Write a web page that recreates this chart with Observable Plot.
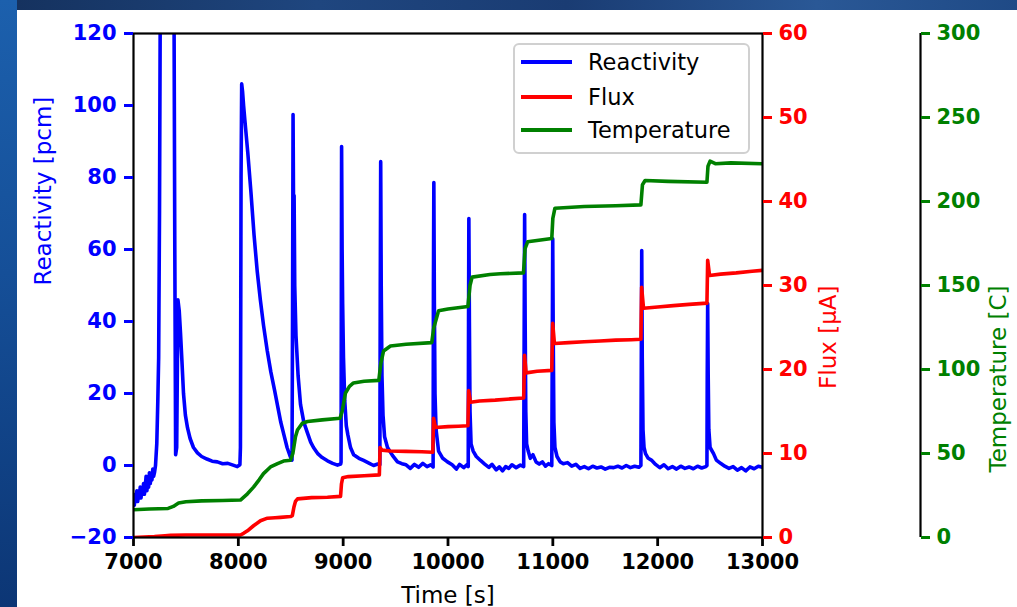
<!DOCTYPE html>
<html>
<head>
<meta charset="utf-8">
<script src="https://cdn.jsdelivr.net/npm/d3@7"></script>
<script src="https://cdn.jsdelivr.net/npm/@observablehq/plot@0.6"></script>
<style>
  html, body { margin: 0; padding: 0; background: #fff; }
  body { width: 1017px; height: 607px; overflow: hidden; position: relative; font-family: "DejaVu Sans", sans-serif; }
  #chart { position: absolute; left: 0; top: 0; }
  #bgLeft { position: absolute; left: 0; top: 0; width: 17px; height: 607px; z-index: 5;
    background: linear-gradient(180deg, #1c60ad 0%, #154f98 45%, #0c3675 100%); }
  #bgTop { position: absolute; left: 17px; top: 0; width: 1000px; height: 10px; z-index: 5;
    background: linear-gradient(90deg, #15325f 0%, #1f467f 30%, #1a3c73 55%, #2a5896 80%, #1f4a86 100%); }
  #legend { position: absolute; left: 513px; top: 43px; width: 237px; height: 111px; box-sizing: border-box;
    border: 2px solid #d0d0d0; border-radius: 6px; background: rgba(255,255,255,0.85); z-index: 4; }
  .row { position: absolute; left: 0; height: 30px; width: 100%; }
  .swatch { position: absolute; left: 6px; top: 13px; width: 51px; height: 4px; }
  .lab { position: absolute; left: 73px; top: 0; line-height: 30px; font-size: 22.5px; color: #000; white-space: nowrap; }
</style>
</head>
<body>
<div id="chart"></div>
<div id="bgLeft"></div>
<div id="bgTop"></div>
<div id="legend"></div>
<script>
// ---- tick values ----
const timeTicks = [7000, 8000, 9000, 10000, 11000, 12000, 13000];
const reactivityTicks = [-20, 0, 20, 40, 60, 80, 100, 120];
const fluxTicks = [0, 10, 20, 30, 40, 50, 60];
const temperatureTicks = [0, 50, 100, 150, 200, 250, 300];

// ---- series labels / colors ----
const seriesNames = ["Reactivity", "Flux", "Temperature"];
const seriesColors = ["#0000ff", "#ff0000", "#008000"];

// ---- Reactivity [pcm] vs time [s] ----
const reactivity = [
[7000,-9],[7008,-11],[7016,-8],[7024,-10],[7032,-7],[7040,-10],[7048,-8],[7056,-9],[7064,-6],[7072,-9],
[7080,-7],[7088,-8],[7096,-5],[7104,-8],[7112,-6],[7120,-3],[7128,-7],[7136,-4],[7144,-6],[7152,-2],
[7160,-5],[7168,-3],[7176,-4],[7184,-1],[7192,-3],[7200,-2],[7210,0],[7222,6],[7232,18],[7240,30],
[7248,70],[7258,150],[7384,150],[7394,60],[7402,3],[7412,5],[7424,46],[7436,43],[7448,37],[7462,29],
[7477,20],[7495,14],[7515,10.5],[7540,7.5],[7572,5],[7610,3.5],[7650,2.5],[7700,1.8],[7750,1.2],[7800,1],
[7850,0.5],[7900,0.6],[7950,0.1],[7990,-0.3],[8015,0.2],
[8020,5],[8026,80],[8032,106],[8040,104],[8050,100],[8062,96],[8090,87],[8120,76],[8150,64],[8180,54],
[8210,46],[8240,39],[8275,32],[8310,26],[8345,21],[8375,16.5],[8405,12],[8435,8.5],[8465,5],[8495,2.5],[8512,1.5],
[8517,40],[8522,97.5],[8527,70],[8532,75],[8538,50],[8550,36],[8570,25],[8593,17],[8625,12],[8660,9],
[8690,6.5],[8717,5],[8760,3.2],[8800,2.2],[8850,1.3],[8900,0.6],[8946,0.1],[8976,0.4],
[8980,1],[8985,88.6],[8990,60],[8995,45],[9003,30],[9015,18],[9030,11],[9045,8.5],[9070,5],[9100,3],
[9150,2],[9195,1.4],[9250,0.6],[9290,0],[9330,0.4],[9350,0.2],
[9354,50],[9358,84.4],[9363,50],[9370,25],[9380,14],[9395,8],[9423,5],[9470,2.8],[9518,1],[9560,0.5],
[9600,0.2],[9640,-0.8],[9680,0.3],[9720,-0.5],[9760,0.6],[9800,-0.3],[9835,0.2],[9858,-0.4],
[9861,50],[9865,78.6],[9870,45],[9876,20],[9886,10],[9910,4],[9950,2],[9995,1],[10040,0.2],[10080,-1],
[10110,0.3],[10150,-0.6],[10180,0.2],[10193,-0.3],
[10196,40],[10199,68.6],[10204,40],[10210,15],[10220,6],[10240,4],[10270,2.5],[10310,1.4],[10350,0.4],
[10390,-0.5],[10420,0.3],[10460,-1.2],[10490,-0.4],[10520,-1.5],[10550,-0.3],[10580,-0.8],[10610,0.2],
[10650,-0.6],[10690,0.1],[10722,-0.3],
[10727,40],[10731,69.7],[10736,40],[10742,15],[10750,6],[10765,4],[10785,2],[10810,3],[10840,1],[10870,0.4],
[10900,1],[10930,-0.2],[10960,0.5],[10990,0],
[10995,35],[10999,63],[11004,35],[11010,12],[11020,5],[11040,2.5],[11070,1],[11100,0.5],[11140,0.8],
[11180,-0.2],[11220,0.3],[11260,-0.8],[11300,-0.3],[11340,-0.9],[11380,-0.2],[11420,-0.7],[11460,-0.4],
[11500,-1],[11540,-0.5],[11580,-0.6],[11620,-0.2],[11660,-0.7],[11700,0],[11740,-0.6],[11780,-0.2],
[11820,-0.5],[11840,0],
[11844,30],[11848,59.7],[11853,30],[11860,10],[11870,5],[11884,3.3],[11910,2],[11940,1.5],[11980,0.3],
[12020,-0.6],[12060,0.2],[12100,-0.9],[12140,-0.3],[12180,-1],[12220,-0.2],[12260,-0.8],[12300,-0.4],
[12340,-0.9],[12380,-0.2],[12420,-0.7],[12460,-0.3],[12470,0],
[12473,25],[12477,45],[12482,25],[12488,10],[12500,5],[12533,3.3],[12560,1.5],[12600,0.6],[12640,-0.2],
[12680,-0.8],[12720,-0.3],[12760,-1.3],[12800,-0.6],[12840,-1.5],[12880,-0.4],[12920,-0.9],[12960,-0.2],[13000,-0.5]
];

// ---- Flux [uA] vs time [s] ----
const flux = [
[7000,0],[7100,0.05],[7200,0.1],[7300,0.2],[7353,0.25],[7500,0.3],[7700,0.3],[7900,0.3],[8020,0.3],
[8050,0.5],[8087,0.8],[8145,1.4],[8211,2],[8278,2.3],[8350,2.35],[8402,2.4],[8498,2.5],[8515,2.6],
[8530,3.6],[8545,4.3],[8565,4.6],[8700,4.75],[8850,4.8],[8975,4.9],[8984,6.4],[8995,7.1],[9050,7.25],
[9200,7.35],[9345,7.45],[9352,10.7],[9370,10.4],[9450,10.3],[9600,10.25],[9750,10.2],[9855,10.15],
[9862,14.2],[9880,13.1],[10000,13.2],[10100,13.25],[10190,13.3],[10197,17.5],[10215,16.1],[10300,16.25],
[10450,16.35],[10600,16.5],[10722,16.6],[10730,21.7],[10745,19.6],[10850,19.8],[10990,19.9],[10999,25.5],
[11015,23.1],[11150,23.2],[11300,23.3],[11450,23.4],[11600,23.5],[11750,23.55],[11840,23.6],[11847,29.8],
[11865,27.3],[12000,27.45],[12150,27.6],[12300,27.75],[12470,27.9],[12477,33],[12495,31.2],[12600,31.35],
[12750,31.5],[12900,31.7],[13000,31.8]
];

// ---- Temperature [C] vs time [s] ----
const temperature = [
[7000,16.5],[7150,17],[7330,17.3],[7380,18.5],[7430,20.5],[7500,21.3],[7650,21.8],[7850,22],[8020,22.3],
[8087,26],[8145,30],[8200,34.5],[8240,38],[8307,42],[8374,44],[8431,45.5],[8498,46],[8520,50],[8545,60],
[8564,64],[8610,68],[8660,69],[8800,70],[8970,71],[8990,75],[9022,86],[9060,90],[9098,92],[9200,93],
[9340,93.5],[9360,104],[9385,111],[9451,114],[9600,115],[9845,116],[9865,125],[9910,135],[10000,136],
[10190,137.5],[10210,150],[10230,155],[10400,156.5],[10500,157],[10720,157.5],[10735,172],[10760,176],
[10990,178],[11000,190],[11020,196],[11300,197],[11600,197.5],[11840,198],[11855,210],[11880,212.5],
[12100,212],[12470,211.5],[12480,221],[12500,224],[12550,222.5],[12700,223],[13000,222.5]
];

// map secondary axes onto the reactivity scale domain [-20, 120]
const yDom = [-20, 120];
const fluxDom = [0, 60];
const tempDom = [0, 300];
const fromFlux = f => yDom[0] + (f - fluxDom[0]) * (yDom[1] - yDom[0]) / (fluxDom[1] - fluxDom[0]);
const toFlux = y => fluxDom[0] + (y - yDom[0]) * (fluxDom[1] - fluxDom[0]) / (yDom[1] - yDom[0]);
const fromTemp = t => yDom[0] + (t - tempDom[0]) * (yDom[1] - yDom[0]) / (tempDom[1] - tempDom[0]);
const toTemp = y => tempDom[0] + (y - yDom[0]) * (tempDom[1] - tempDom[0]) / (yDom[1] - yDom[0]);

const W = 1017, H = 607;
const mLeft = 133, mRight = 255, mTop = 33, mBottom = 70;
const tempAxisOffset = 158;
const tickFont = {fontSize: 21, fontWeight: "bold", fontFamily: "DejaVu Sans"};
const labelFont = {fontSize: 23, fontFamily: "DejaVu Sans"};
const lw = 3.6;

const chart = Plot.plot({
  width: W, height: H,
  marginLeft: mLeft, marginRight: mRight, marginTop: mTop, marginBottom: mBottom,
  style: {background: "transparent", fontFamily: "DejaVu Sans", overflow: "visible"},
  x: {domain: [7000, 13000]},
  y: {domain: yDom},
  marks: [
    Plot.line(reactivity, {x: d => d[0], y: d => d[1], stroke: seriesColors[0], strokeWidth: lw, clip: true}),
    Plot.line(flux, {x: d => d[0], y: d => fromFlux(d[1]), stroke: seriesColors[1], strokeWidth: lw, clip: true}),
    Plot.line(temperature, {x: d => d[0], y: d => fromTemp(d[1]), stroke: seriesColors[2], strokeWidth: lw, clip: true}),
    Plot.frame({stroke: "#000", strokeWidth: 2.2}),
    Plot.axisX(timeTicks, {tickSize: 9, tickPadding: 8, strokeWidth: 2.8, color: "#000",
      tickFormat: d3.format("d"), label: null, ...tickFont}),
    Plot.axisY(reactivityTicks, {anchor: "left", tickSize: 9, tickPadding: 8, strokeWidth: 3, color: seriesColors[0],
      tickFormat: d3.format("d"), label: null, ...tickFont}),
    Plot.axisY(fluxTicks.map(fromFlux), {anchor: "right", tickSize: 9, tickPadding: 7, strokeWidth: 3, color: seriesColors[1],
      tickFormat: d => String(Math.round(toFlux(d))), label: null, ...tickFont}),
    Plot.ruleX([13000], {y1: yDom[0], y2: yDom[1], dx: tempAxisOffset, stroke: "#000", strokeWidth: 2.2}),
    Plot.axisY(temperatureTicks.map(fromTemp), {anchor: "right", dx: tempAxisOffset, tickSize: 9, tickPadding: 7, strokeWidth: 3,
      color: seriesColors[2], tickFormat: d => String(Math.round(toTemp(d))), label: null, ...tickFont}),
    Plot.text(["Time [s]"], {text: d => d, frameAnchor: "bottom", dy: 58, lineAnchor: "middle", fill: "#000", ...labelFont}),
    Plot.text(["Reactivity [pcm]"], {text: d => d, frameAnchor: "left", dx: -90, rotate: -90, fill: seriesColors[0], ...labelFont}),
    Plot.text(["Flux [\u03BCA]"], {text: d => d, frameAnchor: "right", dx: 66, rotate: -90, fill: seriesColors[1], ...labelFont}),
    Plot.text(["Temperature [C]"], {text: d => d, frameAnchor: "right", dx: 236, rotate: -90, fill: seriesColors[2], ...labelFont})
  ]
});
document.getElementById("chart").appendChild(chart);

// legend (HTML overlay)
const legend = document.getElementById("legend");
const rowTops = [2, 37, 70];
seriesNames.forEach((name, i) => {
  const row = document.createElement("div");
  row.className = "row";
  row.style.top = rowTops[i] + "px";
  const sw = document.createElement("div");
  sw.className = "swatch";
  sw.style.background = seriesColors[i];
  const lab = document.createElement("div");
  lab.className = "lab";
  lab.textContent = name;
  row.appendChild(sw); row.appendChild(lab);
  legend.appendChild(row);
});
</script>
</body>
</html>
